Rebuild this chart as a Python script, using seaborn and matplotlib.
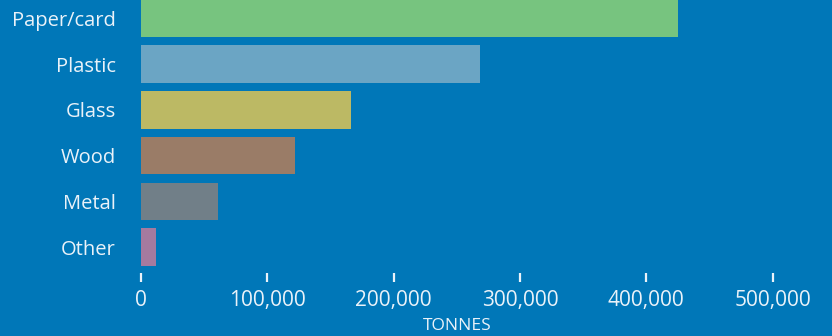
import matplotlib
matplotlib.use("Agg")
import matplotlib.pyplot as plt
import seaborn as sns
import pandas as pd
from matplotlib.ticker import FuncFormatter

categories = ["Paper/card", "Plastic", "Glass", "Wood", "Metal", "Other"]
tonnes = [425000, 268000, 166000, 122000, 61000, 12000]
bar_colors = ["#77c47f", "#6ba5c4", "#bcb964", "#9a7c67", "#717f88", "#a57a9f"]
x_ticks = [0, 100000, 200000, 300000, 400000, 500000]
x_label = "TONNES"

sns.set_theme(style="white")
plt.rcParams["font.family"] = ["Open Sans", "DejaVu Sans"]

bg = "#0077b8"
txt = "#eaf2f9"
W, H = 832, 336
fig = plt.figure(figsize=(W / 100, H / 100), dpi=100, facecolor=bg)
ax = fig.add_axes([141 / W, 1 - 270 / H, (772.7 - 141) / W, 270 / H])
ax.set_facecolor(bg)

df = pd.DataFrame({"cat": categories, "val": tonnes})
sns.barplot(data=df, y="cat", x="val", hue="cat", palette=bar_colors,
            order=categories, hue_order=categories, legend=False,
            width=0.82, saturation=1, linewidth=0, edgecolor="none", ax=ax)

ax.set_xlim(0, 500000)
ax.set_ylim(5.5, -0.405)
ax.set_xticks(x_ticks)
ax.xaxis.set_major_formatter(FuncFormatter(lambda v, p: f"{int(v):,}"))
for s in ax.spines.values():
    s.set_visible(False)
ax.spines["bottom"].set_position(("outward", 2))
ax.tick_params(axis="x", colors=txt, length=6.3, width=1.6, direction="out",
               labelsize=15, pad=6, bottom=True)
ax.tick_params(axis="y", colors=txt, length=0, labelsize=14.5, pad=18)
for lab in ax.get_xticklabels() + ax.get_yticklabels():
    lab.set_color(txt)
ax.set_ylabel("")
ax.set_xlabel(x_label, color=txt, fontsize=12.5, labelpad=5)
ax.grid(False)

fig.savefig("out.png", dpi=100, facecolor=bg)
